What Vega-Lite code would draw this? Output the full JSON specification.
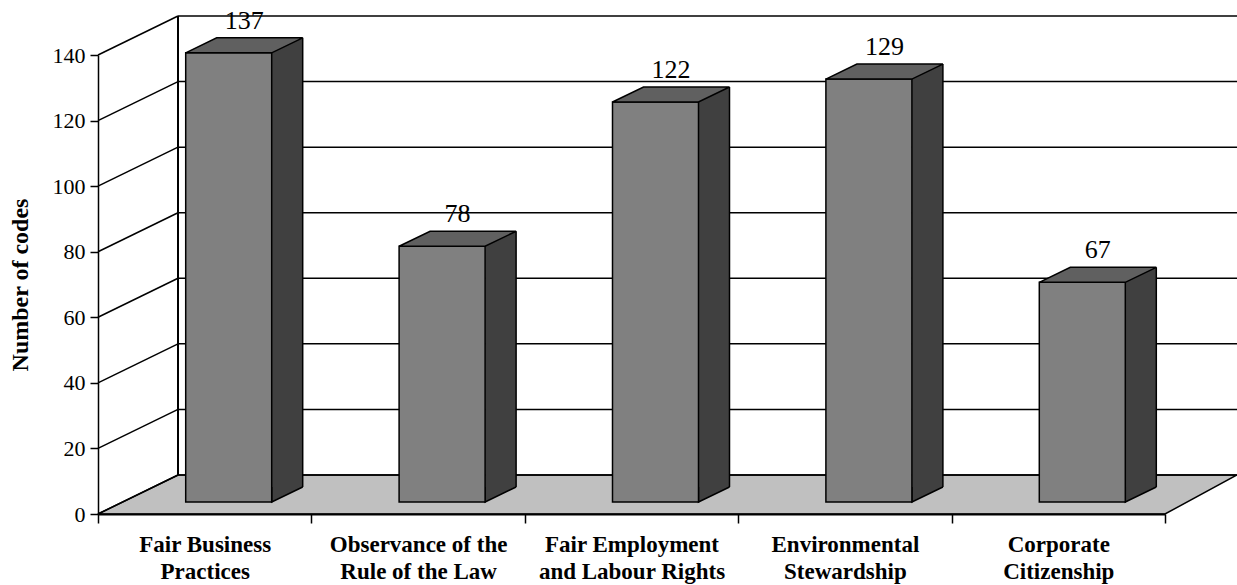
{
  "$schema": "https://vega.github.io/schema/vega-lite/v6.json",
  "width": 1067,
  "height": 459,
  "autosize": {"type": "none"},
  "padding": {"left": 98, "top": 55, "right": 72, "bottom": 71},
  "background": "#ffffff",
  "config": {
    "view": {"stroke": null},
    "font": "Liberation Serif"
  },
  "datasets": {
    "bars": [
      {"category": "Fair Business Practices", "codes": 137},
      {"category": "Observance of the Rule of the Law", "codes": 78},
      {"category": "Fair Employment and Labour Rights", "codes": 122},
      {"category": "Environmental Stewardship", "codes": 129},
      {"category": "Corporate Citizenship", "codes": 67}
    ],
    "ticks": [{"v": 0}, {"v": 20}, {"v": 40}, {"v": 60}, {"v": 80}, {"v": 100}, {"v": 120}, {"v": 140}],
    "frame": [{}]
  },
  "data": {"name": "bars"},
  "layer": [
    {
      "description": "floor of the 3-D box",
      "data": {"name": "frame"},
      "mark": {"type": "point", "shape": "M0,0L80,-39L1139,-39L1067,0Z", "size": 4, "filled": true, "fill": "#c0c0c0", "stroke": "#000000", "strokeWidth": 1.5, "opacity": 1},
      "encoding": {
        "x": {"datum": "Fair Business Practices", "type": "nominal", "bandPosition": 0,
              "scale": {"type": "band", "domain": ["Fair Business Practices", "Observance of the Rule of the Law", "Fair Employment and Labour Rights", "Environmental Stewardship", "Corporate Citizenship"], "paddingInner": 0, "paddingOuter": 0},
              "axis": {
                "title": null, "zindex": 1, "tickBand": "extent",
                "domainColor": "#000000", "domainWidth": 2,
                "tickColor": "#000000", "tickWidth": 1.5, "tickSize": 9,
                "labelFont": "Liberation Serif", "labelFontWeight": "bold", "labelFontSize": 23,
                "labelColor": "#000000", "labelPadding": 10, "labelLineHeight": 27, "labelLimit": 0,
                "labelOverlap": false, "labelAngle": 0,
                "labelExpr": "datum.value == 'Fair Business Practices' ? ['Fair Business', 'Practices'] : datum.value == 'Observance of the Rule of the Law' ? ['Observance of the', 'Rule of the Law'] : datum.value == 'Fair Employment and Labour Rights' ? ['Fair Employment', 'and Labour Rights'] : datum.value == 'Environmental Stewardship' ? ['Environmental', 'Stewardship'] : datum.value == 'Corporate Citizenship' ? ['Corporate', 'Citizenship'] : ''"
              }},
        "y": {"datum": 0, "type": "quantitative",
              "scale": {"domain": [0, 140], "nice": false, "zero": true},
              "axis": {
                "title": "Number of codes", "values": [0, 20, 40, 60, 80, 100, 120, 140],
                "grid": false, "zindex": 1,
                "domainColor": "#000000", "domainWidth": 1.5,
                "tickColor": "#000000", "tickWidth": 1.5, "tickSize": 8,
                "labelFont": "Liberation Serif", "labelFontSize": 22, "labelColor": "#000000", "labelPadding": 5,
                "titleFont": "Liberation Serif", "titleFontSize": 24, "titleFontWeight": "bold", "titleColor": "#000000",
                "titlePadding": 20
              }}
      }
    },
    {
      "description": "back wall gridlines",
      "data": {"name": "ticks"},
      "mark": {"type": "rule", "color": "#000000", "strokeWidth": 1.5, "xOffset": 80, "x2Offset": 72, "yOffset": -39},
      "encoding": {
        "x": {"datum": "Fair Business Practices", "type": "nominal", "bandPosition": 0},
        "x2": {"datum": "Corporate Citizenship", "bandPosition": 1},
        "y": {"field": "v", "type": "quantitative"}
      }
    },
    {
      "description": "side wall gridlines",
      "data": {"name": "ticks"},
      "mark": {"type": "rule", "color": "#000000", "strokeWidth": 1.5, "x2Offset": 80, "y2Offset": -39},
      "encoding": {
        "x": {"datum": "Fair Business Practices", "type": "nominal", "bandPosition": 0},
        "x2": {"datum": "Fair Business Practices", "bandPosition": 0},
        "y": {"field": "v", "type": "quantitative"},
        "y2": {"field": "v"}
      }
    },
    {
      "description": "back corner edge",
      "data": {"name": "frame"},
      "mark": {"type": "rule", "color": "#000000", "strokeWidth": 2, "xOffset": 80, "yOffset": -39, "y2Offset": -39},
      "encoding": {
        "x": {"datum": "Fair Business Practices", "type": "nominal", "bandPosition": 0},
        "y": {"datum": 0, "type": "quantitative"},
        "y2": {"datum": 140}
      }
    },
    {
      "description": "bar side face",
      "mark": {"type": "bar", "width": 31, "xOffset": 82.5, "yOffset": -27, "y2Offset": -27, "fill": "#404040", "strokeWidth": 0},
      "encoding": {
        "x": {"field": "category", "type": "nominal"},
        "y": {"field": "codes", "type": "quantitative", "stack": null},
        "y2": {"datum": 0}
      }
    },
    {
      "description": "lower corner of the side face",
      "mark": {"type": "point", "shape": "M43,-15L43,0L74,-15", "size": 4, "filled": true, "fill": "#404040", "stroke": "#000000", "strokeWidth": 1.5, "opacity": 1, "xOffset": 24, "yOffset": -12},
      "encoding": {
        "x": {"field": "category", "type": "nominal"},
        "y": {"datum": 0, "type": "quantitative"}
      }
    },
    {
      "description": "back edge of the side face",
      "mark": {"type": "rule", "color": "#000000", "strokeWidth": 1.5, "xOffset": 98, "yOffset": -27, "y2Offset": -27},
      "encoding": {
        "x": {"field": "category", "type": "nominal"},
        "y": {"field": "codes", "type": "quantitative"},
        "y2": {"datum": 0}
      }
    },
    {
      "description": "bar front face",
      "mark": {"type": "bar", "width": 86, "xOffset": 24, "yOffset": -12, "y2Offset": -12, "fill": "#808080", "stroke": "#000000", "strokeWidth": 1.5},
      "encoding": {
        "x": {"field": "category", "type": "nominal"},
        "y": {"field": "codes", "type": "quantitative", "stack": null},
        "y2": {"datum": 0}
      }
    },
    {
      "description": "bar top face",
      "mark": {"type": "point", "shape": "M-43,0L43,0L74,-15L-12,-15Z", "size": 4, "filled": true, "fill": "#606060", "stroke": "#000000", "strokeWidth": 1.5, "opacity": 1, "xOffset": 24, "yOffset": -12},
      "encoding": {
        "x": {"field": "category", "type": "nominal"},
        "y": {"field": "codes", "type": "quantitative"}
      }
    },
    {
      "description": "value labels",
      "mark": {"type": "text", "font": "Liberation Serif", "fontSize": 26, "color": "#000000", "align": "center", "baseline": "alphabetic", "xOffset": 39.5, "yOffset": -36},
      "encoding": {
        "x": {"field": "category", "type": "nominal"},
        "y": {"field": "codes", "type": "quantitative"},
        "text": {"field": "codes", "type": "quantitative"}
      }
    }
  ]
}
